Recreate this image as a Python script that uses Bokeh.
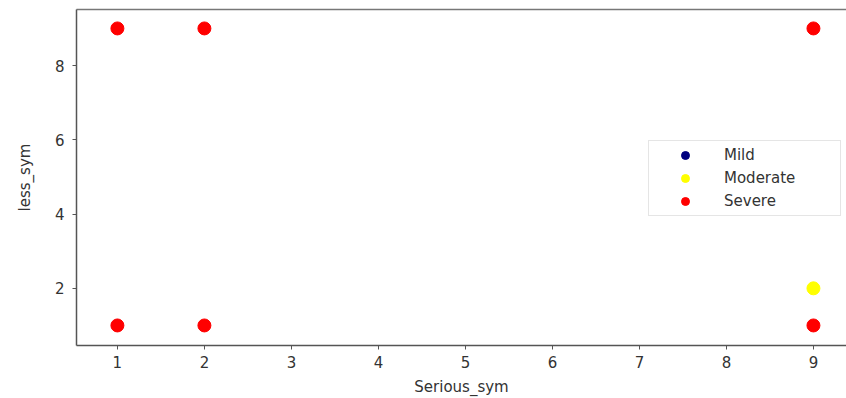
from bokeh.plotting import figure
from bokeh.models import Range1d, FixedTicker, Legend, LegendItem, LinearAxis
from bokeh.embed import file_html
from bokeh.resources import INLINE

# Data (Mild points lie hidden under the red ones)
mild_x = [1]
mild_y = [1]
moderate_x = [9]
moderate_y = [2]
severe_x = [1, 2, 9, 1, 2, 9]
severe_y = [9, 9, 9, 1, 1, 1]
x_ticks = [1, 2, 3, 4, 5, 6, 7, 8, 9]
y_ticks = [2, 4, 6, 8]

FONT = "DejaVu Sans"

p = figure(width=846, height=398, output_backend="svg", toolbar_location=None,
           x_range=Range1d(0.53, 9.38), y_range=Range1d(0.46, 9.51))
p.min_border_left = 76
p.min_border_top = 9
p.min_border_bottom = 53
p.min_border_right = 0
p.border_fill_color = "white"
p.background_fill_color = "white"
p.outline_line_color = None
p.grid.visible = False

xa = p.below[0]
ya = p.left[0]

for ax in (xa, ya):
    ax.axis_line_color = "#555555"
    ax.axis_line_width = 1.5
    ax.major_tick_line_color = "#555555"
    ax.major_tick_out = 4
    ax.major_tick_in = 0
    ax.minor_tick_line_color = None
    ax.major_label_text_font = FONT
    ax.major_label_text_font_size = "15px"
    ax.major_label_text_color = "#333333"
    ax.axis_label_text_font = FONT
    ax.axis_label_text_font_size = "15px"
    ax.axis_label_text_color = "#333333"
    ax.axis_label_text_font_style = "normal"

xa.ticker = FixedTicker(ticks=x_ticks)
ya.ticker = FixedTicker(ticks=y_ticks)
xa.axis_label = "Serious_sym"
ya.axis_label = "less_sym"
xa.major_label_standoff = 6
ya.major_label_standoff = 8
xa.axis_label_standoff = 7
ya.axis_label_standoff = 18

# top frame line only (no right border visible in the reference)
top = LinearAxis(ticker=FixedTicker(ticks=[]), minor_tick_line_color=None,
                 major_tick_line_color=None, axis_line_color="#777777",
                 axis_line_width=1.5, major_label_standoff=0,
                 major_tick_out=0, major_tick_in=0)
p.add_layout(top, "above")

r_mild = p.scatter(mild_x, mild_y, size=11, color="navy")
r_mod = p.scatter(moderate_x, moderate_y, size=13, color="yellow")
r_sev = p.scatter(severe_x, severe_y, size=13, color="red")

legend = Legend(items=[LegendItem(label="Mild", renderers=[r_mild]),
                       LegendItem(label="Moderate", renderers=[r_mod]),
                       LegendItem(label="Severe", renderers=[r_sev])],
                location=(572, 129))
legend.label_text_font = FONT
legend.label_text_font_size = "15px"
legend.label_text_color = "#333333"
legend.glyph_width = 64
legend.glyph_height = 20
legend.label_height = 20
legend.label_standoff = 7
legend.label_width = 112
legend.spacing = 3
legend.padding = 4
legend.margin = 0
legend.border_line_color = "#cccccc"
legend.border_line_width = 1
legend.background_fill_alpha = 0.9
p.add_layout(legend)

open("out.html", "w").write(file_html(p, INLINE))
